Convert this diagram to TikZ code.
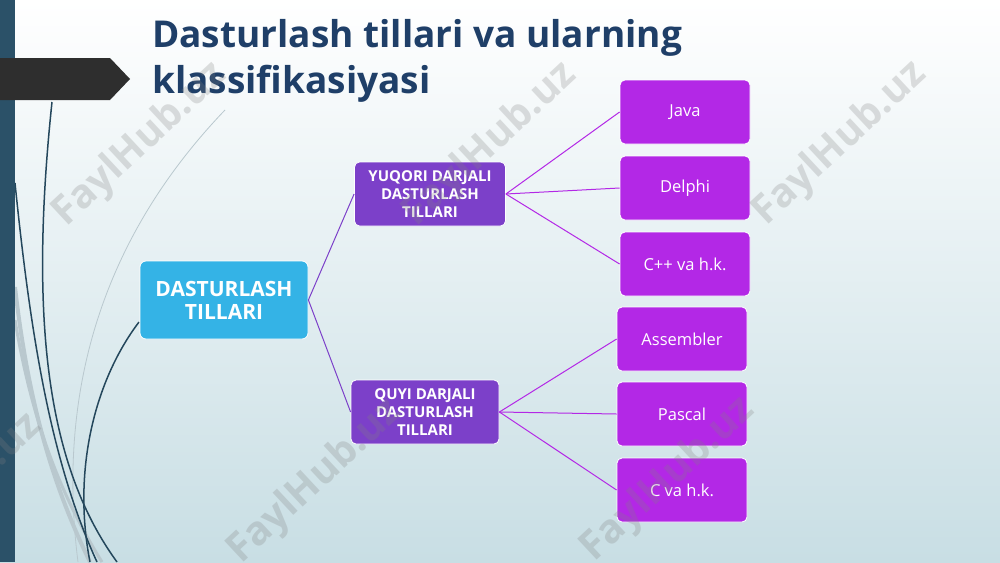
\documentclass[tikz,border=0pt]{standalone}
\usepackage{fontspec}
\setmainfont{Open Sans}
\usetikzlibrary{positioning}

\definecolor{bgbottom}{HTML}{C8DEE4}
\definecolor{sidebar}{HTML}{2B5168}
\definecolor{arrowgray}{HTML}{2E2E2E}
\definecolor{titleblue}{HTML}{1F3F68}
\definecolor{rootblue}{HTML}{34B3E6}
\definecolor{midpurple}{HTML}{7C40C9}
\definecolor{leafpurple}{HTML}{B328E6}
\definecolor{curvedark}{HTML}{24475C}
\definecolor{curvelight}{HTML}{B9C8CE}

\begin{document}
\begin{tikzpicture}[
    x=1pt, y=-1pt,
    rootbox/.style={draw=white, line width=0.8pt, rounded corners=6pt, fill=rootblue, text=white, align=center, font=\bfseries\fontsize{21}{23}\selectfont, minimum width=168pt, minimum height=78pt},
    midbox/.style={draw=white, line width=0.8pt, rounded corners=5pt, fill=midpurple, text=white, align=center, font=\bfseries\fontsize{15}{18}\selectfont, minimum width=151pt, minimum height=64pt, inner sep=2pt},
    leafbox/.style={draw=white, line width=0.8pt, rounded corners=5pt, fill=leafpurple, text=white, font=\fontsize{16.5}{19}\selectfont, minimum width=130pt, minimum height=64pt},
    titletxt/.style={anchor=base west, inner sep=0pt, text=titleblue, font=\bfseries\fontsize{37}{46}\selectfont},
    wmark/.style={text=gray, opacity=0.25, font=\bfseries\fontsize{40}{44}\selectfont, rotate=43},
    link/.style={line width=1pt}
]
\useasboundingbox (0,0) rectangle (1000,562);
\shade[top color=white, bottom color=bgbottom] (0,0) rectangle (1000,562);

% decoration on the left
\draw[curvelight, line width=4pt] (15,287) .. controls (30,420) and (60,500) .. (90,562);
\draw[curvelight, line width=3pt] (15,320) .. controls (35,440) and (70,510) .. (102,562);
\draw[curvelight, line width=0.8pt] (225,110) .. controls (110,230) and (55,380) .. (78,562);
\draw[curvedark, line width=1.5pt] (52,102) .. controls (28,330) and (50,470) .. (117,562);
\draw[curvedark, line width=1.5pt] (15,183) .. controls (30,330) and (50,460) .. (97,562);
\draw[curvedark, line width=1.5pt] (139,322) .. controls (95,380) and (72,470) .. (90,562);
\fill[sidebar] (0,0) rectangle (15,562);
\fill[arrowgray] (0,58) -- (110,58) -- (130,79) -- (110,100) -- (0,100) -- cycle;

% title
\node[titletxt] (title1) at (152,47) {Dasturlash tillari va ularning};
\node[titletxt] (title2) at (152,93) {klassifikasiyasi};

% boxes
\node[rootbox] (root) at (224,300) {DASTURLASH\\TILLARI};
\node[midbox] (high) at (430,194) {YUQORI DARJALI\\DASTURLASH\\TILLARI};
\node[midbox, minimum width=148pt] (low) at (425,412) {QUYI DARJALI\\DASTURLASH\\TILLARI};

\node[leafbox] (java) at (685,112) {Java};
\node[leafbox] (delphi) at (685,188) {Delphi};
\node[leafbox] (cpp) at (685,264) {C++ va h.k.};
\node[leafbox] (asm) at (682,339) {Assembler};
\node[leafbox] (pascal) at (682,414) {Pascal};
\node[leafbox] (cva) at (682,490) {C va h.k.};

\draw[link, midpurple] (root.east) -- (high.west);
\draw[link, midpurple] (root.east) -- (low.west);
\draw[link, leafpurple] (high.east) -- (java.west);
\draw[link, leafpurple] (high.east) -- (delphi.west);
\draw[link, leafpurple] (high.east) -- (cpp.west);
\draw[link, leafpurple] (low.east) -- (asm.west);
\draw[link, leafpurple] (low.east) -- (pascal.west);
\draw[link, leafpurple] (low.east) -- (cva.west);

% watermark
\node[wmark] (wm1) at (140,145) {FaylHub.uz};
\node[wmark] (wm2) at (490,145) {FaylHub.uz};
\node[wmark] (wm3) at (840,144) {FaylHub.uz};
\node[wmark] (wm4) at (-45,496) {FaylHub.uz};
\node[wmark] (wm5) at (315,482) {FaylHub.uz};
\node[wmark] (wm6) at (668,480) {FaylHub.uz};
\end{tikzpicture}
\end{document}
